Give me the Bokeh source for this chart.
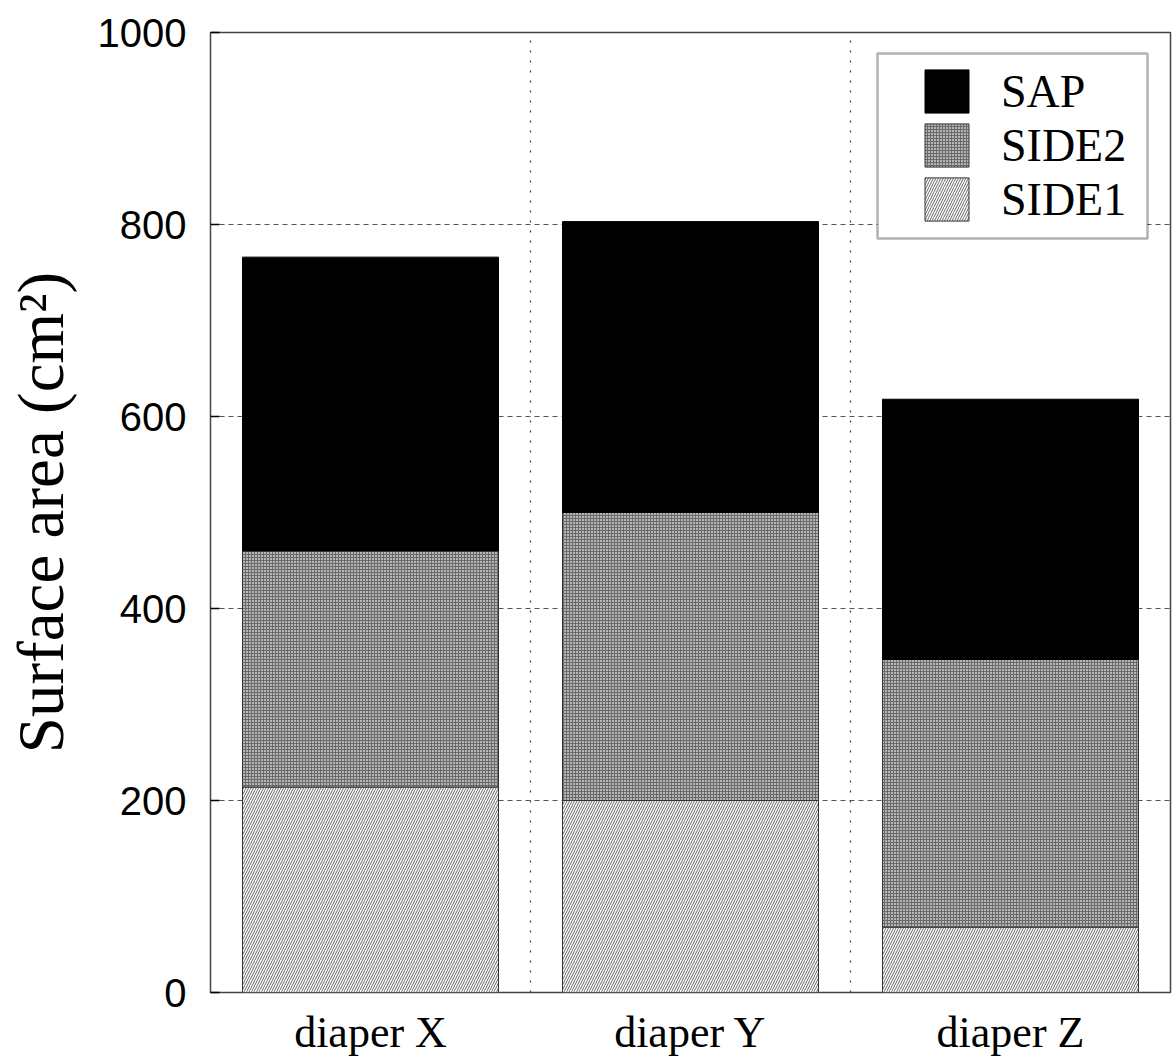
from bokeh.plotting import figure
from bokeh.models import ColumnDataSource, FixedTicker, Legend, LegendItem, Range1d, BoxAnnotation
from bokeh.embed import file_html
from bokeh.resources import INLINE

categories = ["diaper X", "diaper Y", "diaper Z"]
side1 = [214, 200, 68]
side2 = [246, 300, 279]
sap = [306, 303, 271]
y_ticks = [0, 200, 400, 600, 800, 1000]

xs = [i + 1 for i in range(len(categories))]
s1_top = side1
s2_top = [a + b for a, b in zip(side1, side2)]
sap_top = [a + b for a, b in zip(s2_top, sap)]

src = ColumnDataSource(dict(x=xs, b0=[0] * len(xs), t1=s1_top, t2=s2_top, t3=sap_top))

SERIF = "Liberation Serif"
SANS = "Liberation Sans"

p = figure(width=1174, height=1059, output_backend="svg", toolbar_location=None,
           x_range=Range1d(0.5, len(categories) + 0.5), y_range=Range1d(0, 1000),
           min_border_left=210, min_border_right=4, min_border_top=32, min_border_bottom=66)
p.background_fill_color = "white"
p.border_fill_color = "white"
p.outline_line_color = "#444444"
p.outline_line_width = 1.5

r1 = p.vbar(x="x", bottom="b0", top="t1", width=0.8, source=src,
            fill_color="white", hatch_pattern="/", hatch_scale=5, hatch_color="#666666",
            hatch_weight=1, line_color="#333333", line_width=1)
r2 = p.vbar(x="x", bottom="t1", top="t2", width=0.8, source=src,
            fill_color="#b5b5b5", hatch_pattern="+", hatch_scale=3, hatch_color="#6a6a6a",
            hatch_weight=1, line_color="#333333", line_width=1)
r3 = p.vbar(x="x", bottom="t2", top="t3", width=0.8, source=src,
            fill_color="black", line_color="black", line_width=1)

# axes
p.xaxis.ticker = FixedTicker(ticks=xs)
p.xaxis.major_label_overrides = {x: c for x, c in zip(xs, categories)}
p.xaxis.major_label_text_font = SERIF
p.xaxis.major_label_text_font_size = "44px"
p.xaxis.major_label_text_color = "black"
p.xaxis.major_label_standoff = 9
p.xaxis.major_tick_line_color = None
p.xaxis.minor_tick_line_color = None
p.xaxis.axis_line_color = None

p.yaxis.ticker = FixedTicker(ticks=y_ticks)
p.yaxis.major_label_text_font = SANS
p.yaxis.major_label_text_font_size = "40px"
p.yaxis.major_label_text_color = "black"
p.yaxis.major_label_standoff = 24
p.yaxis.major_tick_in = 9
p.yaxis.major_tick_out = 0
p.yaxis.major_tick_line_color = "black"
p.yaxis.major_tick_line_width = 1.5
p.yaxis.minor_tick_line_color = None
p.yaxis.axis_line_color = None
p.yaxis.axis_label = "Surface area (cm²)"
p.yaxis.axis_label_text_font = SERIF
p.yaxis.axis_label_text_font_style = "normal"
p.yaxis.axis_label_text_font_size = "65px"
p.yaxis.axis_label_text_color = "black"
p.yaxis.axis_label_standoff = 18

# grids
p.ygrid.ticker = FixedTicker(ticks=y_ticks)
p.ygrid.grid_line_color = "#555555"
p.ygrid.grid_line_dash = "5 4"
p.ygrid.grid_line_width = 1
p.xgrid.ticker = FixedTicker(ticks=[i + 0.5 for i in range(len(categories) + 1)])
p.xgrid.grid_line_color = "#444444"
p.xgrid.grid_line_dash = "2 8"
p.xgrid.grid_line_width = 1.3

# legend frame (pixels on canvas)
box = BoxAnnotation(left=877, right=1147, top=53, bottom=238,
                    left_units="canvas", right_units="canvas", top_units="canvas", bottom_units="canvas",
                    fill_color="white", fill_alpha=1.0, line_color="black", line_width=2.5,
                    level="annotation")
p.add_layout(box)

legend = Legend(items=[LegendItem(label="SAP", renderers=[r3]),
                       LegendItem(label="SIDE2", renderers=[r2]),
                       LegendItem(label="SIDE1", renderers=[r1])],
                location=(709, 766), padding=10, spacing=0,
                glyph_width=55, glyph_height=54, label_standoff=27,
                label_text_font=SERIF, label_text_font_size="46px", label_text_color="black",
                border_line_color=None, background_fill_alpha=0.0)
p.add_layout(legend, "center")

open("out.html", "w").write(file_html(p, INLINE))
